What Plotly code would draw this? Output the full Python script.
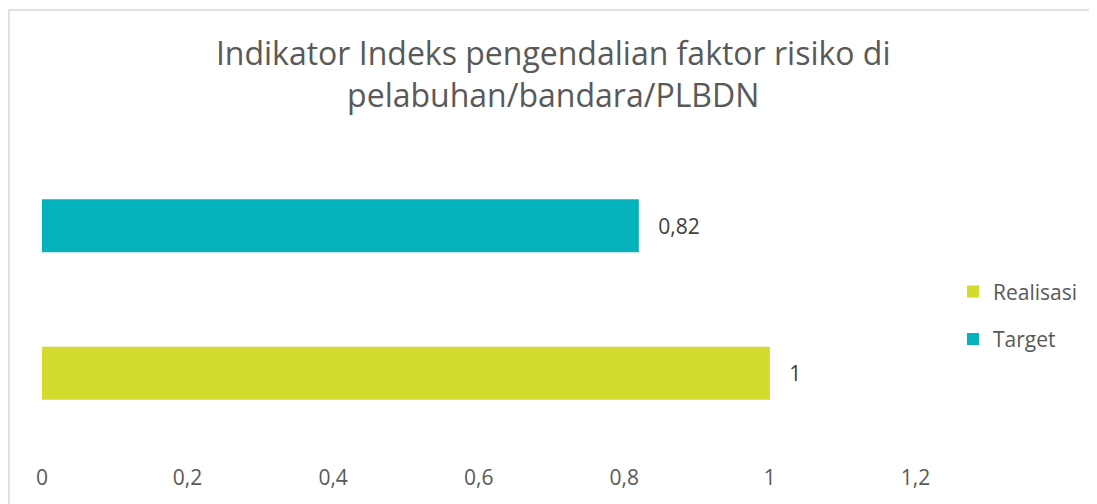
import plotly.graph_objects as go

categories = [""]
series_names = ["Realisasi", "Target"]
realisasi_values = [1]
target_values = [0.82]
tick_values = [0, 0.2, 0.4, 0.6, 0.8, 1, 1.2]
tick_labels = ["0", "0,2", "0,4", "0,6", "0,8", "1", "1,2"]
colors = ["#D4DB2F", "#06B2BC"]

FONT = "Open Sans"
TXT = "#595959"

fig = go.Figure()
for name, vals, col in zip(series_names, [realisasi_values, target_values], colors):
    fig.add_trace(go.Bar(
        y=categories, x=vals, name=name, orientation="h",
        marker=dict(color=col, line=dict(width=0)),
        text=[("\u00a0\u00a0\u00a0" + ("%g" % v).replace(".", ",")) for v in vals],
        textposition="outside", cliponaxis=False,
        textfont=dict(family=FONT, size=21, color="#404040"),
        legendgroup=name,
    ))

fig.update_layout(
    width=1097, height=504,
    margin=dict(l=34, r=44, t=143.5, b=64.5),
    paper_bgcolor="white", plot_bgcolor="white",
    barmode="group", bargap=0, bargroupgap=0.642,
    separators=",.",
    title=dict(
        text="Indikator Indeks pengendalian faktor risiko di<br>pelabuhan/bandara/PLBDN",
        x=0.497, xanchor="center", xref="container",
        y=0.887, yanchor="top", yref="container",
        font=dict(family=FONT, size=32, color=TXT),
    ),
    xaxis=dict(
        range=[0, 1.4], tickvals=tick_values, ticktext=tick_labels,
        showgrid=False, zeroline=False, showline=False,
        ticks="", ticklabelstandoff=16,
        tickfont=dict(family=FONT, size=21, color=TXT),
    ),
    yaxis=dict(showticklabels=False, showgrid=False, zeroline=False, showline=False),
    legend=dict(
        x=0.894, xanchor="left", y=0.446, yanchor="middle",
        traceorder="grouped", tracegroupgap=17,
        font=dict(family=FONT, size=21, color=TXT),
        bgcolor="rgba(0,0,0,0)",
    ),
    showlegend=True,
    shapes=[dict(
        type="rect", xref="paper", yref="paper",
        x0=-0.0324, x1=1.2, y0=-0.4, y1=1.4814,
        line=dict(color="#D9D9D9", width=1.5), fillcolor="rgba(0,0,0,0)", layer="below",
    )],
)

fig.write_html("out.html")
